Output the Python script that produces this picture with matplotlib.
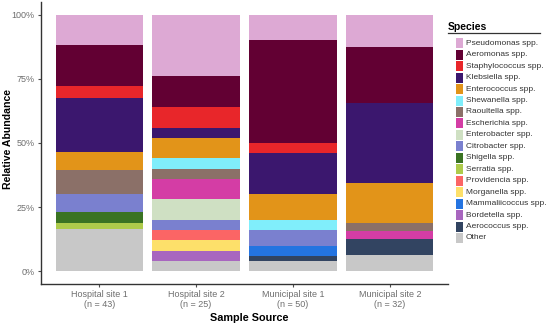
import numpy as np
import matplotlib
matplotlib.use("Agg")
import matplotlib.pyplot as plt
from matplotlib.patches import Rectangle
from matplotlib.lines import Line2D

plt.rcParams['font.family'] = ['Liberation Sans', 'DejaVu Sans']

# sample sources and sizes
sources = ["Hospital site 1", "Hospital site 2", "Municipal site 1", "Municipal site 2"]
n_samples = [43, 25, 50, 32]

# species in legend order (top of stack first)
species = ["Pseudomonas spp.", "Aeromonas spp.", "Staphylococcus spp.", "Klebsiella spp.",
           "Enterococcus spp.", "Shewanella spp.", "Raoultella spp.", "Escherichia spp.",
           "Enterobacter spp.", "Citrobacter spp.", "Shigella spp.", "Serratia spp.",
           "Providencia spp.", "Morganella spp.", "Mammaliicoccus spp.", "Bordetella spp.",
           "Aerococcus spp.", "Other"]
colors = ["#DDA9D4", "#620033", "#E8262A", "#3B176E",
          "#E29419", "#80EEFB", "#8B7068", "#D43DA5",
          "#CFE0C3", "#7A80CF", "#3A7323", "#AECB4B",
          "#FB6565", "#FDE06A", "#2474E1", "#A866BF",
          "#324461", "#C8C8C8"]

# isolate counts per species (same order as species) for each source
hospital1 = [5, 7, 2, 9, 3, 0, 4, 0, 0, 3, 2, 1, 0, 0, 0, 0, 0, 7]
hospital2 = [6, 3, 2, 1, 2, 1, 1, 2, 2, 1, 0, 0, 1, 1, 0, 1, 0, 1]
municipal1 = [5, 20, 2, 8, 5, 2, 0, 0, 0, 3, 0, 0, 0, 0, 2, 0, 1, 2]
municipal2 = [4, 7, 0, 10, 5, 0, 1, 1, 0, 0, 0, 0, 0, 0, 0, 0, 2, 2]

counts = np.array([hospital1, hospital2, municipal1, municipal2], dtype=float)
props = counts / counts.sum(axis=1, keepdims=True) * 100

fig = plt.figure(figsize=(5.5, 3.29), dpi=100)
W, H = 550, 329
ax = fig.add_axes([41 / W, 1 - 284 / H, (448 - 41) / W, (284 - 2) / H])

x = np.arange(1, len(sources) + 1)
bottom = np.zeros(len(sources))
# stack from "Other" at the bottom upward
for i in range(len(species) - 1, -1, -1):
    ax.bar(x, props[:, i], bottom=bottom, width=0.9, color=colors[i], linewidth=0)
    bottom += props[:, i]

ax.set_xlim(0.4, 4.6)
ax.set_ylim(-5, 105)
ax.set_yticks([0, 25, 50, 75, 100])
ax.set_yticklabels(["0%", "25%", "50%", "75%", "100%"])
ax.set_xticks(x)
ax.set_xticklabels([f"{s}\n(n = {n})" for s, n in zip(sources, n_samples)], linespacing=1.1)
ax.tick_params(colors="#4D4D4D", labelsize=6.5, length=2.5, width=0.8, pad=2)
ax.tick_params(axis="x", labelcolor="#6E6E6E")
ax.tick_params(axis="y", labelcolor="#6E6E6E")
for s in ["top", "right"]:
    ax.spines[s].set_visible(False)
for s in ["left", "bottom"]:
    ax.spines[s].set_color("#333333")
    ax.spines[s].set_linewidth(1.0)

fig.text(249 / W, 1 - 318 / H, "Sample Source", ha="center", va="center",
         fontsize=7.8, fontweight="bold")
fig.text(8 / W, 1 - 139 / H, "Relative Abundance", ha="center", va="center",
         rotation=90, fontsize=7.6, fontweight="bold")

# legend
fig.text(448 / W, 1 - 26.5 / H, "Species", ha="left", va="center", fontsize=7.5, fontweight="bold")
fig.add_artist(Line2D([448 / W, 540 / W], [1 - 33.3 / H, 1 - 33.3 / H], color="#333333", lw=0.9))
y0, dy = 43.3, 11.45
for k, (sp, c) in enumerate(zip(species, colors)):
    yc = y0 + k * dy
    fig.add_artist(Rectangle((455.5 / W, 1 - (yc + 5) / H), 7 / W, 10 / H,
                             facecolor=c, edgecolor="none", transform=fig.transFigure))
    fig.text(466 / W, 1 - yc / H, sp, ha="left", va="center", fontsize=6, color="#333333")

fig.savefig("out.png", dpi=100)
